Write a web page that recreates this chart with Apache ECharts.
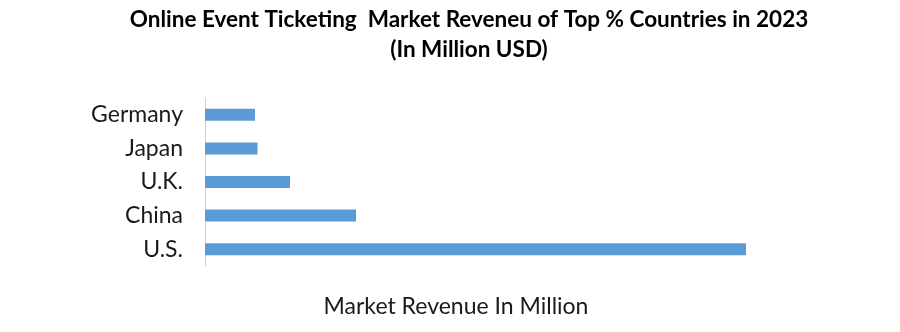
<!DOCTYPE html>
<html><head><meta charset="utf-8">
<script src="https://cdn.jsdelivr.net/npm/echarts@6/dist/echarts.min.js"></script>
<style>html,body{margin:0;padding:0;background:#fff}#c{width:900px;height:332px}</style>
</head><body><div id="c"></div>
<script>
const categories = ["U.S.", "China", "U.K.", "Japan", "Germany"];
const revenue = [541, 151, 85, 52.5, 50];
const titleLines = ["Online Event Ticketing  Market Reveneu of Top % Countries in 2023", "(In Million USD)"];
const xAxisName = "Market Revenue In Million";

const chart = echarts.init(document.getElementById('c'));
chart.setOption({
  animation: false,
  title: [{
    text: titleLines.join('\n'),
    left: 464, top: 0, textAlign: 'center',
    textStyle: {fontFamily: 'Lato', fontWeight: 'bold', fontSize: 22.5, lineHeight: 30, color: '#000'}
  }, {
    text: xAxisName,
    left: 451, top: 290, textAlign: 'center',
    textStyle: {fontFamily: 'Lato', fontWeight: 'normal', fontSize: 23, color: '#1a1a1a'}
  }],
  grid: {left: 205, top: 98, width: 600, height: 168},
  xAxis: {
    type: 'value', min: 0, max: 600,
    axisLabel: {show: false}, splitLine: {show: false}, axisLine: {show: false}, axisTick: {show: false}
  },
  yAxis: {
    type: 'category', data: categories,
    axisLine: {show: true, lineStyle: {color: '#d0d0d0', width: 1}},
    axisTick: {show: false},
    axisLabel: {fontFamily: 'Lato', fontSize: 23, color: '#1a1a1a', margin: 22}
  },
  series: [{
    type: 'bar', data: revenue, barWidth: 12,
    itemStyle: {color: '#5b9bd5'}
  }]
});
</script></body></html>
